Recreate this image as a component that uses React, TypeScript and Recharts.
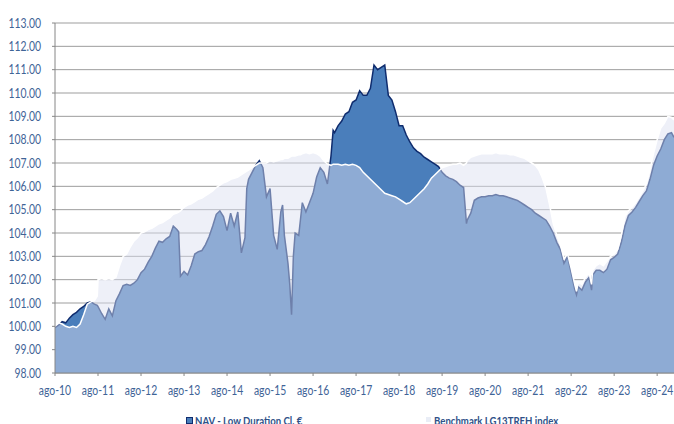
import React from 'react';
import { ComposedChart, Area, XAxis, YAxis, CartesianGrid, Legend } from 'recharts';

// months since Aug 2010
const months = [
  0, 1, 2, 3, 4, 5, 6, 7, 8, 9, 10, 11, 11.8, 12, 13, 14, 15, 16, 17, 18, 19, 20,
  21, 22, 23, 24, 25, 26, 27, 28, 29, 30, 31, 32, 33, 34, 34.5, 35, 36, 37, 38, 39, 40,
  41, 42, 43, 44, 45, 46, 47, 48, 49, 50, 51, 52, 53, 53.5, 54, 55, 56, 57, 58, 59, 60,
  61, 62, 63, 63.5, 64, 65, 65.5, 66, 66.5, 67, 68, 68.5, 69, 70, 71, 72, 73, 74, 75, 76,
  77, 77.6, 78, 79, 80, 81, 82, 83, 84, 85, 86, 87, 88, 89, 90, 91, 92, 93, 94, 95, 96,
  97, 98, 99, 100, 101, 102, 103, 104, 105, 106, 107, 108, 109, 110, 111, 112, 113, 114, 114.8,
  115, 116, 117, 118, 119, 120, 121, 122, 123, 124, 125, 126, 127, 128, 129, 130, 131, 132,
  133, 134, 135, 136, 137, 138, 139, 140, 141, 142, 143, 144, 145, 145.5, 146, 147, 148, 149,
  149.7, 150, 151, 152, 153, 154, 155, 156, 157, 158, 159, 160, 161, 162, 163, 164, 165, 166,
  167, 168, 169, 170, 171, 172, 172.7,
];

const navValues = [
  99.95, 100.05, 100.2, 100.15, 100.35, 100.5, 100.6, 100.75, 100.85, 101.0, 101.05, 100.95, 100.9, 100.85, 100.55, 100.3, 100.75, 100.45, 101.1, 101.4, 101.75, 101.8,
  101.75, 101.85, 102.0, 102.3, 102.45, 102.75, 103.0, 103.35, 103.65, 103.6, 103.75, 103.85, 104.3, 104.15, 104.05, 102.15, 102.35, 102.2, 102.6, 103.1, 103.2,
  103.25, 103.5, 103.85, 104.3, 104.8, 104.95, 104.7, 104.1, 104.85, 104.3, 104.9, 103.15, 103.8, 105.9, 106.3, 106.6, 106.9, 107.1, 106.8, 105.55, 105.9,
  103.9, 103.3, 104.9, 105.2, 103.9, 102.7, 101.8, 100.5, 103.0, 104.0, 103.9, 104.6, 105.3, 104.9, 105.3, 105.7, 106.4, 106.8, 106.6, 106.1,
  107.3, 108.4, 108.3, 108.6, 108.8, 109.1, 109.2, 109.6, 109.7, 110.1, 109.9, 109.9, 110.2, 111.2, 111.0, 111.1, 111.2, 109.9, 109.7, 109.2, 108.6,
  108.6, 108.2, 107.9, 107.65, 107.5, 107.4, 107.25, 107.15, 107.05, 106.95, 106.85, 106.6, 106.45, 106.35, 106.3, 106.2, 106.05, 105.95, 104.4,
  104.55, 104.85, 105.4, 105.5, 105.55, 105.55, 105.6, 105.6, 105.65, 105.6, 105.6, 105.55, 105.5, 105.45, 105.4, 105.3, 105.2, 105.1,
  105.0, 104.85, 104.75, 104.65, 104.55, 104.3, 104.0, 103.6, 103.3, 102.7, 103.0, 102.3, 101.6, 101.35, 101.7, 101.55, 101.9, 102.1,
  101.55, 102.2, 102.4, 102.4, 102.3, 102.45, 102.85, 102.95, 103.1, 103.6, 104.3, 104.75, 104.9, 105.1, 105.35, 105.6, 105.8, 106.3,
  106.9, 107.3, 107.6, 108.0, 108.25, 108.3, 108.1,
];

const benchValues = [
  100.0, 100.15, 100.1, 100.0, 99.95, 100.0, 99.95, 100.1, 100.5, 100.95, 101.05, 101.1, 101.3, 102.0, 102.05, 102.0, 102.05, 102.0, 102.1, 102.6, 103.0, 103.1,
  103.4, 103.65, 103.8, 104.0, 104.05, 104.15, 104.2, 104.3, 104.4, 104.45, 104.55, 104.65, 104.8, 104.85, 104.9, 104.95, 105.1, 105.2, 105.25, 105.35, 105.45,
  105.5, 105.6, 105.7, 105.8, 105.95, 106.05, 106.15, 106.2, 106.3, 106.35, 106.4, 106.5, 106.6, 106.65, 106.7, 106.8, 106.9, 107.0, 107.0, 107.0, 107.1,
  107.05, 107.1, 107.15, 107.15, 107.2, 107.2, 107.25, 107.3, 107.3, 107.3, 107.35, 107.35, 107.4, 107.45, 107.4, 107.45, 107.4, 107.3, 107.1, 106.95,
  106.9, 106.95, 106.95, 106.95, 106.9, 106.95, 106.9, 106.95, 106.9, 106.8, 106.6, 106.45, 106.3, 106.15, 106.0, 105.85, 105.7, 105.65, 105.6, 105.55, 105.45,
  105.35, 105.25, 105.3, 105.45, 105.6, 105.75, 105.9, 106.1, 106.35, 106.5, 106.65, 106.8, 106.85, 106.9, 106.95, 106.95, 107.0, 106.9, 107.0,
  107.1, 107.25, 107.3, 107.35, 107.4, 107.4, 107.4, 107.4, 107.45, 107.4, 107.4, 107.4, 107.35, 107.35, 107.3, 107.25, 107.2, 107.1,
  107.0, 106.9, 106.7, 106.35, 105.9, 105.2, 104.4, 103.9, 103.5, 102.9, 103.1, 102.5, 101.8, 101.5, 101.9, 101.8, 102.1, 102.3,
  101.8, 102.4, 102.6, 102.7, 102.6, 102.8, 103.0, 103.1, 103.3, 103.9, 104.7, 104.95, 105.1, 105.3, 105.55, 105.8, 106.1, 106.7,
  107.4, 108.0, 108.5, 108.7, 109.0, 108.95, 108.85,
];

const yearTicks = [0, 12, 24, 36, 48, 60, 72, 84, 96, 108, 120, 132, 144, 156, 168];
const yearLabels = [
  'ago-10', 'ago-11', 'ago-12', 'ago-13', 'ago-14', 'ago-15', 'ago-16', 'ago-17',
  'ago-18', 'ago-19', 'ago-20', 'ago-21', 'ago-22', 'ago-23', 'ago-24',
];
const yTicks = [98, 99, 100, 101, 102, 103, 104, 105, 106, 107, 108, 109, 110, 111, 112, 113];
const seriesNames = ['NAV - Low Duration Cl. €', 'Benchmark LG13TREH index'];

const data = months.map((m, i) => ({ m, nav: navValues[i], bench: benchValues[i] }));

const FONT = "Lato, 'Open Sans', sans-serif";
const TEXT_COLOR = '#3f6497';
const SQUEEZE = 0.8;

const XTick = (props: any) => {
  const { x, y, payload } = props;
  const label = yearLabels[yearTicks.indexOf(payload.value)];
  return (
    <text
      transform={`translate(${x},${y}) scale(${SQUEEZE},1)`}
      x={0}
      y={0}
      dy="0.71em"
      textAnchor="middle"
      fill={TEXT_COLOR}
      fontSize={13}
      fontFamily={FONT}
    >
      {label}
    </text>
  );
};

const YTick = (props: any) => {
  const { x, y, payload } = props;
  return (
    <text
      transform={`translate(${x},${y}) scale(${SQUEEZE},1)`}
      x={0}
      y={0}
      dy="0.355em"
      textAnchor="end"
      fill={TEXT_COLOR}
      fontSize={13}
      fontFamily={FONT}
    >
      {Number(payload.value).toFixed(2)}
    </text>
  );
};

const legendText: React.CSSProperties = {
  position: 'absolute',
  top: 13.5,
  whiteSpace: 'nowrap',
  transform: `scaleX(${SQUEEZE})`,
  transformOrigin: 'left top',
};

const renderLegend = () => (
  <div
    style={{
      position: 'relative',
      width: 674,
      height: 24,
      fontFamily: FONT,
      fontWeight: 'bold',
      fontSize: 12,
      lineHeight: '14px',
      color: '#2f5188',
    }}
  >
    <span
      style={{
        position: 'absolute',
        left: 186,
        top: 16.5,
        width: 5,
        height: 5,
        background: '#4a7ebb',
        border: '1px solid #0f2c6e',
      }}
    />
    <span style={{ ...legendText, left: 195 }}>{seriesNames[0]}</span>
    <span
      style={{
        position: 'absolute',
        left: 426,
        top: 17,
        width: 5,
        height: 5,
        background: '#e9edf6',
      }}
    />
    <span style={{ ...legendText, left: 434 }}>{seriesNames[1]}</span>
  </div>
);

export default function App() {
  return (
    <div style={{ position: 'absolute', left: 0, top: 0, width: 674, height: 424, background: '#fff' }}>
      <ComposedChart
        width={674}
        height={424}
        data={data}
        margin={{ top: 23, right: 0, bottom: 0, left: 0 }}
      >
        <CartesianGrid vertical={false} stroke="#9d9d9d" strokeWidth={1} />
        <XAxis
          dataKey="m"
          type="number"
          domain={[0, 172.7]}
          ticks={yearTicks}
          interval={0}
          allowDataOverflow
          height={51}
          tickSize={3}
          tickMargin={10}
          stroke="#868686"
          tick={<XTick />}
        />
        <YAxis
          type="number"
          domain={[98, 113]}
          ticks={yTicks}
          interval={0}
          allowDataOverflow
          width={55}
          tickSize={3}
          tickMargin={11}
          stroke="#868686"
          tick={<YTick />}
        />
        <Area
          type="linear"
          dataKey="nav"
          name={seriesNames[0]}
          fill="#4a7ebb"
          fillOpacity={1}
          stroke="#0f2c6e"
          strokeWidth={1.5}
          dot={false}
          activeDot={false}
          isAnimationActive={false}
        />
        <Area
          type="linear"
          dataKey="bench"
          name={seriesNames[1]}
          fill="#dbe0f0"
          fillOpacity={0.47}
          stroke="#ffffff"
          strokeWidth={1.5}
          dot={false}
          activeDot={false}
          isAnimationActive={false}
        />
        <Legend
          layout="horizontal"
          verticalAlign="middle"
          align="center"
          wrapperStyle={{ top: 400, left: 0, width: 674, height: 24 }}
          content={renderLegend}
        />
      </ComposedChart>
    </div>
  );
}
